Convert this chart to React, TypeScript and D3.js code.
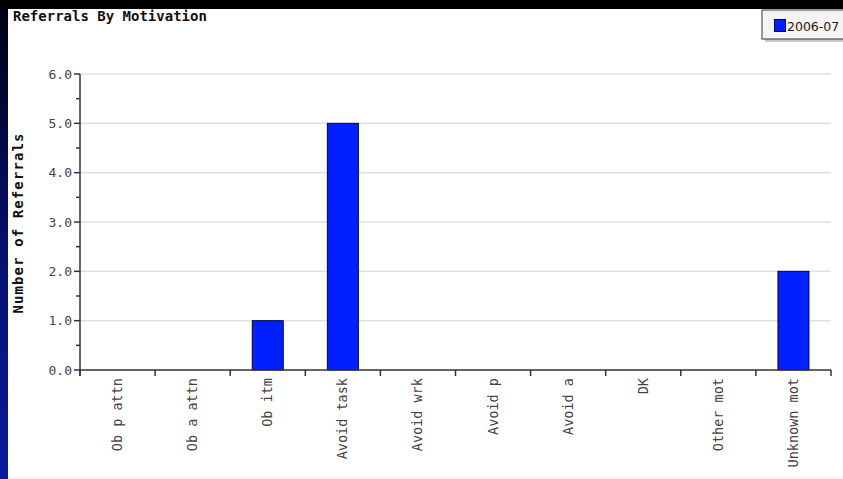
import React from "react";
import * as d3 from "d3";

const categories = ["Ob p attn", "Ob a attn", "Ob itm", "Avoid task", "Avoid wrk", "Avoid p", "Avoid a", "DK", "Other mot", "Unknown mot"];
const values = [0, 0, 1, 5, 0, 0, 0, 0, 0, 2];
const yTicks = [0, 1, 2, 3, 4, 5, 6];
const seriesName = "2006-07";
const title = "Referrals By Motivation";
const yTitle = "Number of Referrals";

const W = 843, H = 479;
const left = 80, right = 831, top = 74, bottom = 370;
const mono = "'DejaVu Sans Mono', 'Liberation Mono', monospace";

export default function App() {
  const x = d3.scaleBand<string>().domain(categories).range([left, right]).paddingInner(0).paddingOuter(0);
  const y = d3.scaleLinear().domain([0, 6]).range([bottom, top]);
  const bw = 31;
  const minor = d3.range(0.5, 6, 1);
  const boundaries = d3.range(0, categories.length + 1).map((i) => left + i * x.step());
  return (
    <svg width={W} height={H} style={{ position: "absolute", left: 0, top: 0, display: "block" }}>
      <defs>
        <linearGradient id="side" x1="0" y1="0" x2="0" y2="1">
          <stop offset="0" stopColor="#000010" />
          <stop offset="0.5" stopColor="#05106a" />
          <stop offset="1" stopColor="#0a1aa0" />
        </linearGradient>
      </defs>
      <rect x={0} y={0} width={W} height={H} fill="url(#side)" />
      <rect x={0} y={0} width={W} height={9} fill="#000" />
      <rect x={8} y={9} width={W - 8} height={H - 9} fill="#f2f2f2" />
      <rect x={8} y={9} width={W - 8} height={468} fill="#fff" />
      <text x={13} y={21} fontFamily={mono} fontWeight="bold" fontSize={14} fill="#111">{title}</text>
      {/* legend */}
      <rect x={765} y={13} width={90} height={29} fill="#c8c8c8" />
      <rect x={762} y={10} width={90} height={29} fill="#f4f4f4" stroke="#333" strokeWidth={1} />
      <rect x={774.5} y={19.5} width={11} height={12} fill="#0020ff" stroke="#000066" strokeWidth={1} />
      <text x={787} y={31} fontFamily="'DejaVu Sans', Verdana, sans-serif" fontSize={12.5} fill="#222">{seriesName}</text>
      {/* gridlines */}
      {yTicks.filter((t) => t > 0).map((t) => (
        <line key={t} x1={left} x2={right} y1={y(t)} y2={y(t)} stroke="#e0e0e0" strokeWidth={1.5} />
      ))}
      {/* bars */}
      {categories.map((c, i) => values[i] > 0 ? (
        <rect key={c} x={(x(c) as number) + x.bandwidth() / 2 - bw / 2} y={y(values[i])} width={bw} height={y(0) - y(values[i])}
          fill="#0020ff" stroke="#000055" strokeWidth={1} />
      ) : null)}
      {/* y axis */}
      <line x1={left} x2={left} y1={top} y2={bottom + 6} stroke="#333" strokeWidth={1.5} />
      {yTicks.map((t) => (
        <g key={t}>
          <line x1={left - 6} x2={left} y1={y(t)} y2={y(t)} stroke="#333" strokeWidth={1.5} />
          <text x={72} y={y(t) + 4.5} textAnchor="end" fontFamily={mono} fontSize={13} fill="#444">{t.toFixed(1)}</text>
        </g>
      ))}
      {minor.map((t) => (
        <line key={t} x1={left - 4} x2={left} y1={y(t)} y2={y(t)} stroke="#333" strokeWidth={1.5} />
      ))}
      {/* x axis */}
      <line x1={left} x2={right} y1={bottom} y2={bottom} stroke="#333" strokeWidth={1.5} />
      {boundaries.map((b, i) => (
        <line key={i} x1={b} x2={b} y1={bottom} y2={bottom + 6} stroke="#333" strokeWidth={1.5} />
      ))}
      {categories.map((c) => {
        const cx = (x(c) as number) + x.bandwidth() / 2;
        return (
          <text key={c} transform={`translate(${cx + 4.5},378) rotate(-90)`} textAnchor="end" fontFamily={mono} fontSize={13.5} fill="#444">{c}</text>
        );
      })}
      <text transform={`translate(23,223) rotate(-90)`} textAnchor="middle" fontFamily={mono} fontWeight="bold" fontSize={14} letterSpacing={1.1} fill="#111">{yTitle}</text>
    </svg>
  );
}
